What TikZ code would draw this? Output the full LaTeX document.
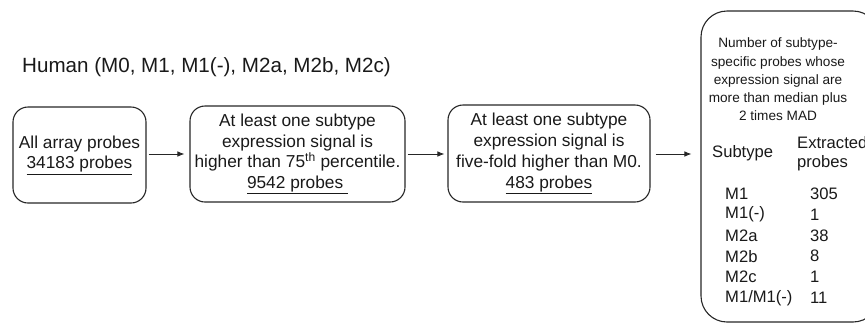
\documentclass[tikz,border=0pt]{standalone}
\usepackage{fontspec}
\setmainfont{Liberation Sans}
\usetikzlibrary{arrows.meta}

\tikzset{
  stagebox/.style={draw=black!85, line width=1.1pt, rounded corners=15pt,
    align=center, inner sep=0pt, text=black!90,
    font=\fontsize{17.3}{20.7}\selectfont},
  resultbox/.style={draw=black!85, line width=1.1pt, rounded corners=26pt,
    inner sep=0pt},
  flow/.style={draw=black!85, line width=0.8pt,
    -{Latex[length=7pt,width=5.5pt]}},
  headtext/.style={align=center, inner sep=0pt, text=black!90,
    font=\fontsize{13.6}{18.3}\selectfont},
  tabtext/.style={anchor=west, inner sep=0pt, text=black!90,
    font=\fontsize{16.6}{19}\selectfont},
}

\begin{document}
\begin{tikzpicture}[x=1pt, y=-1pt]
  \useasboundingbox (0,0) rectangle (865,325);
  \clip (0,0) rectangle (865,325);

  % title
  \node[anchor=west, inner sep=0pt, text=black!90,
        font=\fontsize{20.6}{24}\selectfont] (title) at (22,67)
        {Human (M0, M1, M1(-), M2a, M2b, M2c)};

  % filtering stages
  \node[stagebox, minimum width=133pt, minimum height=96pt] (all) at (79.5,155)
    {All array probes\\\underline{34183 probes}};
  \node[stagebox, minimum width=215pt, minimum height=96pt] (pct) at (297.5,154)
    {At least one subtype\\expression signal is\\higher than 75\textsuperscript{th} percentile.\\\underline{9542 probes\ }};
  \node[stagebox, minimum width=202pt, minimum height=97pt] (fold) at (549,153.5)
    {At least one subtype\\expression signal is\\five-fold higher than M0.\\\underline{483 probes}};

  % result panel
  \node[resultbox, minimum width=178pt, minimum height=311pt] (res) at (790,166.5) {};

  \node[headtext] (head) at (778,79.5)
    {Number of subtype-\\specific probes whose\\expression signal are\\more than median plus\\2 times MAD};

  \node[tabtext] (colA) at (712,153) {Subtype};
  \node[tabtext, align=left] (colB) at (797,153.5) {Extracted\\probes};

  \node[tabtext] (r1a) at (725,193.5) {M1};       \node[tabtext] (r1b) at (810,193.5) {305};
  \node[tabtext] (r2a) at (725,214.4) {M1(-)};    \node[tabtext] (r2b) at (810,214.4) {1};
  \node[tabtext] (r3a) at (725,235.3) {M2a};      \node[tabtext] (r3b) at (810,235.3) {38};
  \node[tabtext] (r4a) at (725,256.2) {M2b};      \node[tabtext] (r4b) at (810,256.2) {8};
  \node[tabtext] (r5a) at (725,277.1) {M2c};      \node[tabtext] (r5b) at (810,277.1) {1};
  \node[tabtext] (r6a) at (725,298)   {M1/M1(-)}; \node[tabtext] (r6b) at (810,298)   {11};

  % connectors
  \draw[flow, shorten <=2pt, shorten >=5pt] (all.east |- 0,154) -- (pct.west |- 0,154);
  \draw[flow, shorten <=2pt, shorten >=3pt] (pct.east |- 0,154) -- (fold.west |- 0,154);
  \draw[flow, shorten <=5pt, shorten >=9pt] (fold.east |- 0,154) -- (res.west |- 0,154);
\end{tikzpicture}
\end{document}
